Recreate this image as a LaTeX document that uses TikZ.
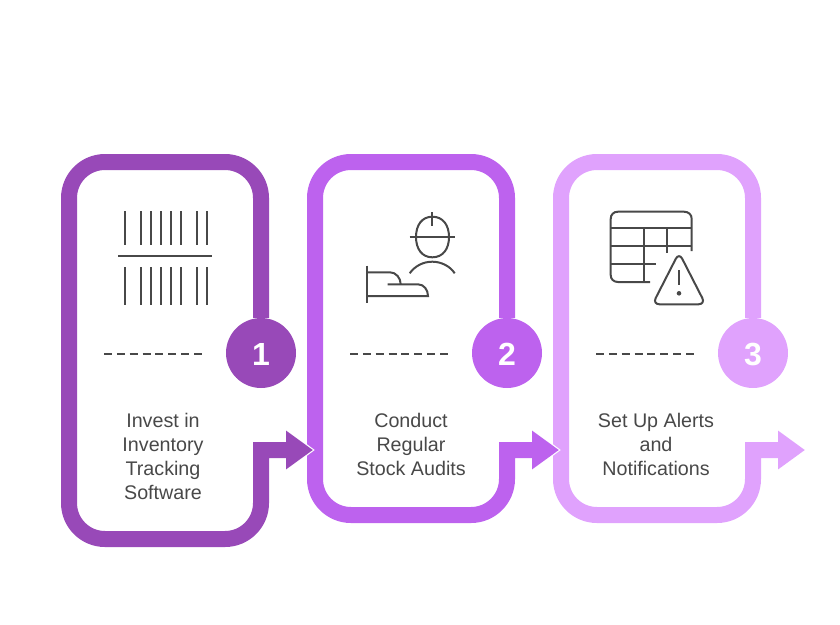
\documentclass[tikz,border=0pt]{standalone}
\usepackage{fontspec}
\setmainfont{Liberation Sans}
\usetikzlibrary{arrows.meta,positioning}
\definecolor{plumA}{HTML}{9849B8}
\definecolor{plumB}{HTML}{BD62EE}
\definecolor{plumC}{HTML}{E0A2FD}
\definecolor{inkgrey}{HTML}{484848}
\tikzset
{
    frameline/.style = {line width=16pt, rounded corners=36pt, -{Triangle[length=27pt,width=37pt]}},
    halo/.style      = {white, line width=16pt, -{Triangle[length=31pt,width=43pt]}},
    badge/.style     = {circle, minimum size=70pt, inner sep=0pt, text=white, text height=25.4pt, text depth=0pt, font=\fontsize{32}{32}\selectfont\bfseries},
    caption/.style   = {align=center, text=inkgrey, font=\fontsize{19.7}{24}\selectfont},
    icon/.style      = {draw=inkgrey, line width=2pt},
    dashrule/.style  = {draw=inkgrey, line width=2pt, dash pattern=on 8pt off 4.86pt}
}
\begin{document}
\begin{tikzpicture}[x=1pt, y=-1pt]
\useasboundingbox (0,0) rectangle (840,624);
\newcommand\dashLeft{-157}
\newcommand\dashRight{-59}
\node(one) [badge,fill=plumA] at (261,353) {1};
\node(two) [badge,fill=plumB] at (507,353) {2};
\node(three) [badge,fill=plumC] at (753,353) {3};
\coordinate(tipone) at ([shift=({52,97})]one.center);
\coordinate(tiptwo) at ([shift=({52,97})]two.center);
\coordinate(tipthree) at ([shift=({52,97})]three.center);
\coordinate(elbowone) at ([shift=({0,97})]one.center);
\coordinate(elbowtwo) at ([shift=({0,97})]two.center);
\coordinate(elbowthree) at ([shift=({0,97})]three.center);
% frames, last one first so each tip lies over the next frame
\draw[frameline,color=plumC] (three.north) -- (753,162) -- (561,162) -- (561,515) -- (753,515) [sharp corners] -- (elbowthree) -- (tipthree);
\draw[halo] (elbowtwo) -- ([xshift=2pt]tiptwo);
\draw[frameline,color=plumB] (two.north) -- (507,162) -- (315,162) -- (315,515) -- (507,515) [sharp corners] -- (elbowtwo) -- (tiptwo);
\draw[halo] (elbowone) -- ([xshift=2pt]tipone);
\draw[frameline,color=plumA] (one.north) -- (261,162) -- (69,162) -- (69,539) -- (261,539) [sharp corners] -- (elbowone) -- (tipone);
\draw[dashrule] ([shift=({\dashLeft,0.5})]one.center) -- ([shift=({\dashRight,0.5})]one.center);
\draw[dashrule] ([shift=({\dashLeft,0.5})]two.center) -- ([shift=({\dashRight,0.5})]two.center);
\draw[dashrule] ([shift=({\dashLeft,0.5})]three.center) -- ([shift=({\dashRight,0.5})]three.center);
\node(investtext) [caption] at (163,456) {Invest in\\Inventory\\Tracking\\Software};
\node(audittext) [caption] at (411,444) {Conduct\\Regular\\Stock Audits};
\node(alerttext) [caption] at (656,444) {Set Up Alerts\\and\\Notifications};
% barcode
\foreach \barX in {125,140.7,150.7,160.7,170.7,181,197,207}
{
    \draw[icon] (\barX,211) -- (\barX,244.5);
    \draw[icon] (\barX,267) -- (\barX,304.5);
}
\draw[icon] (118,256) -- (212,256);
% worker
\draw[icon] (432.3,216.7) .. controls (443,216.7) and (449,225) .. (449,237) .. controls (449,249) and (443,257.3) .. (432.3,257.3) .. controls (422,257.3) and (416,249) .. (416,237) .. controls (416,225) and (422,216.7) .. (432.3,216.7);
\draw[icon] (409.7,237) -- (455,237);
\draw[icon] (432.3,212) -- (432.3,225.7);
\draw[icon] (409.7,273.3) .. controls (415,266) and (423,261.7) .. (432.3,261.7) .. controls (441,261.7) and (450,266) .. (454.7,273.3);
\draw[icon] (367,265.7) -- (367,302.7);
\draw[icon] (367,272.3) -- (390,272.3) .. controls (396,272.3) and (400.7,278) .. (400.7,284.3);
\draw[icon] (387.7,284.3) -- (418,284.3) .. controls (424,284.3) and (428,290) .. (428,296) -- (367,296);
% table with warning
\draw[icon] (650,282) -- (618,282) .. controls (613.5,282) and (610.7,279) .. (610.7,275) -- (610.7,219) .. controls (610.7,214.5) and (613.5,211.7) .. (618,211.7) -- (684,211.7) .. controls (688.5,211.7) and (691.7,214.5) .. (691.7,219) -- (691.7,251);
\draw[icon] (610.7,228) -- (691.7,228);
\draw[icon] (610.7,246) -- (691.7,246);
\draw[icon] (610.7,263.7) -- (656,263.7);
\draw[icon] (643.7,228) -- (643.7,282);
\draw[icon] (667,228) -- (667,253.3);
\draw[icon, rounded corners=7pt] (679,252.5) -- (705.5,304.3) -- (652.5,304.3) -- cycle;
\draw[icon] (679,270) -- (679,285);
\node(warndot) [circle, fill=inkgrey, inner sep=0pt, minimum size=4.6pt] at (679,293.3) {};
\end{tikzpicture}
\end{document}
